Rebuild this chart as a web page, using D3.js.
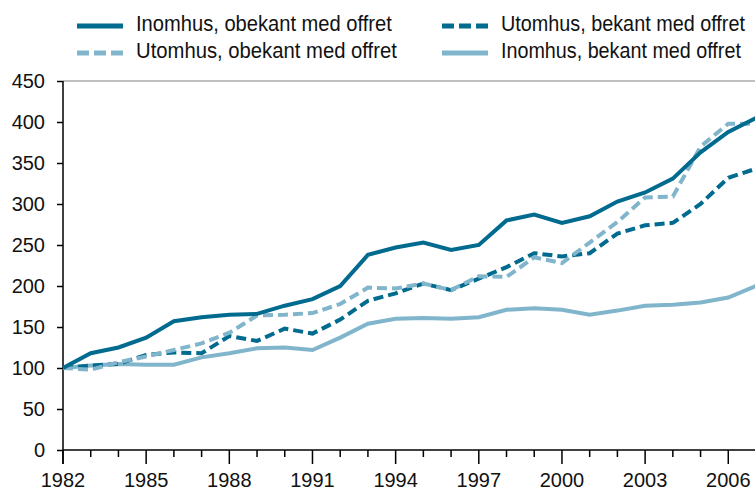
<!DOCTYPE html>
<html>
<head>
<meta charset="utf-8">
<style>
	body { margin: 0; background: #fff; }
	svg text { font-family: "Liberation Sans", Arial, sans-serif; fill: #111; }
	.legend text { font-size: 22px; }
</style>
</head>
<body>
<div id="chart"></div>
<script src="https://cdn.jsdelivr.net/npm/d3@7"></script>
<script>
	// data (index, 1982 = 100)
	var years = d3.range(1982, 2008);
	var yTicks = [0, 50, 100, 150, 200, 250, 300, 350, 400, 450];
	var xTickLabels = [1982, 1985, 1988, 1991, 1994, 1997, 2000, 2003, 2006];

	var inneObekant = [100, 118, 125, 137, 157, 162, 165, 166, 176, 184, 200, 238, 247, 253, 244, 250, 280, 287, 277, 285, 303, 314, 331, 363, 388, 405];
	var uteObekant = [100, 98, 107, 114, 122, 130, 143, 164, 165, 167, 178, 198, 197, 203, 195, 212, 211, 235, 228, 253, 278, 308, 309, 370, 398, 398];
	var uteBekant = [100, 103, 105, 116, 119, 118, 139, 133, 148, 142, 159, 182, 191, 203, 195, 209, 223, 240, 236, 240, 264, 274, 277, 300, 332, 343];
	var inneBekant = [100, 103, 105, 104, 104, 113, 118, 124, 125, 122, 137, 154, 160, 161, 160, 162, 171, 173, 171, 165, 170, 176, 177, 180, 186, 200];

	var dark = '#006b8f', light = '#80b5cb';

	var series = [
		{ name: 'Inomhus, obekant med offret', values: inneObekant, color: dark, dash: null },
		{ name: 'Utomhus, obekant med offret', values: uteObekant, color: light, dash: '10,5' },
		{ name: 'Utomhus, bekant med offret', values: uteBekant, color: dark, dash: '10,5' },
		{ name: 'Inomhus, bekant med offret', values: inneBekant, color: light, dash: null }
	];
	// the legend font is a narrow one; squeeze the text to the widths seen
	var legWidths = [256, 261, 244, 240];

	var W = 755, H = 490;
	var svg = d3.select('#chart').append('svg')
		.attr('width', W)
		.attr('height', H);

	var x = d3.scaleLinear().domain([1982, 2007]).range([63, 756]);
	var y = d3.scaleLinear().domain([0, 450]).range([450, 81]);

	// top grey line at 450
	svg.append('line')
		.attr('x1', x(1982)).attr('x2', W)
		.attr('y1', y(450)).attr('y2', y(450))
		.attr('stroke', '#aaa').attr('stroke-width', 1.5);

	// y axis
	svg.append('g')
		.attr('transform', 'translate(' + x(1982) + ',0)')
		.call(d3.axisLeft(y).tickValues(yTicks).tickSize(6).tickPadding(12))
		.call(g => {
			g.select('.domain').attr('stroke', '#000').attr('stroke-width', 1.5).attr('d', 'M0,' + y(450) + 'V' + (y(0) + 14));
			g.selectAll('line').attr('stroke', '#000').attr('stroke-width', 1.5);
			g.selectAll('text').attr('font-size', 20).attr('font-family', '"Liberation Sans", Arial, sans-serif').attr('fill', '#111');
		});

	// x axis: minor ticks every year, major every 3
	var xg = svg.append('g').attr('transform', 'translate(0,' + y(0) + ')');
	xg.append('line')
		.attr('x1', x(1982)).attr('x2', W)
		.attr('stroke', '#000').attr('stroke-width', 1.5);
	xg.selectAll('line.tick')
		.data(years)
		.enter().append('line')
		.attr('class', 'tick')
		.attr('x1', d => x(d)).attr('x2', d => x(d))
		.attr('y1', 0)
		.attr('y2', d => (d - 1982) % 3 === 0 ? 14 : 7)
		.attr('stroke', '#000').attr('stroke-width', 1.5);
	xg.selectAll('text')
		.data(xTickLabels)
		.enter().append('text')
		.attr('x', d => x(d))
		.attr('y', 37)
		.attr('text-anchor', 'middle')
		.attr('font-size', 20)
		.text(d => d);

	// lines
	var line = d3.line()
		.x((d, i) => x(years[i]))
		.y(d => y(d));

	var drawOrder = [3, 2, 1, 0];
	svg.selectAll('path.series')
		.data(drawOrder.map(i => series[i]))
		.enter().append('path')
		.attr('class', 'series')
		.attr('d', d => line(d.values))
		.attr('fill', 'none')
		.attr('stroke', d => d.color)
		.attr('stroke-width', 4)
		.attr('stroke-dasharray', d => d.dash);

	// legend
	var legPos = [[77, 26], [77, 53], [442, 26], [442, 53]];
	var legend = svg.selectAll('g.legend')
		.data(series)
		.enter().append('g')
		.attr('class', 'legend')
		.attr('transform', (d, i) => 'translate(' + legPos[i] + ')');
	legend.append('line')
		.attr('x1', 0).attr('x2', 46)
		.attr('stroke', d => d.color)
		.attr('stroke-width', 5)
		.attr('stroke-dasharray', d => d.dash ? '12,5' : null);
	legend.append('text')
		.attr('y', 5)
		.text(d => d.name)
		.attr('transform', function(d, i) {
			var sx = legWidths[i] / this.getComputedTextLength();
			return 'translate(59,0) scale(' + sx + ',1)';
		});
</script>
</body>
</html>
